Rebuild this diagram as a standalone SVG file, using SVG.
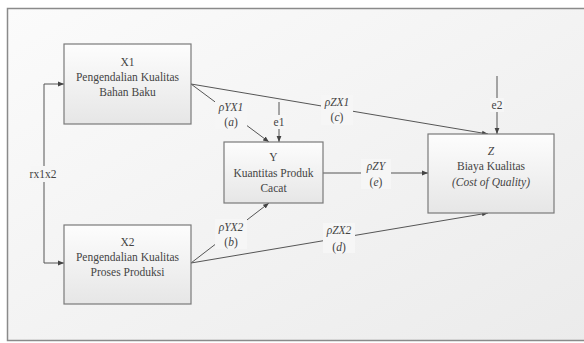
<svg xmlns="http://www.w3.org/2000/svg" width="584" height="343" viewBox="0 0 584 343">
<defs>
<linearGradient id="bg" x1="0" y1="0" x2="1" y2="1">
<stop offset="0" stop-color="#fbfbfb"/>
<stop offset="1" stop-color="#ebebeb"/>
</linearGradient>
<linearGradient id="box" x1="0" y1="0" x2="0" y2="1">
<stop offset="0" stop-color="#fdfdfd"/>
<stop offset="1" stop-color="#e6e6e6"/>
</linearGradient>
<marker id="arr" viewBox="0 0 10 10" refX="10" refY="5" markerWidth="6" markerHeight="6" orient="auto" markerUnits="userSpaceOnUse">
<path d="M0,1 L10,5 L0,9 z" fill="#444"/>
</marker>
<style>
.node rect{fill:url(#box);stroke:#7a7a7a;stroke-width:1.2}
text{font-size:11.5px;fill:#444;text-anchor:middle}
.it{font-style:italic}
.edge{stroke:#555;stroke-width:1;fill:none;marker-end:url(#arr)}
.lbg{fill:#f6f6f6}
</style>
</defs>
<rect x="0" y="0" width="584" height="343" fill="#ffffff"/>
<rect x="7.5" y="8.5" width="590" height="332" fill="url(#bg)" stroke="#8a8a8a" stroke-width="1.5"/>

<g id="connectors">
<path class="edge" d="M44,84 L44,263 M44,84 L64,84"/>
<path class="edge" d="M44,263 L64,263"/>
<path class="edge" d="M191,84 L269,142"/>
<path class="edge" d="M191,84 L488,134"/>
<path class="edge" d="M191,263 L269,203"/>
<path class="edge" d="M191,263 L488,213"/>
<path class="edge" d="M323,173 L428,173"/>
<path class="edge" d="M279,102 L279,142"/>
<path class="edge" d="M497,76 L497,134"/>
</g>

<g font-family="'Liberation Serif', 'Times New Roman', 'DejaVu Serif', serif">
<g id="labels">
<rect class="lbg" x="31" y="166" width="24" height="16"/>
<text x="43" y="178">rx1x2</text>
<rect class="lbg" x="215" y="99" width="32" height="30"/>
<text x="231" y="111" class="it">ρYX1</text>
<text x="231" y="126">(<tspan class="it">a</tspan>)</text>
<rect class="lbg" x="321" y="95" width="32" height="30"/>
<text x="337" y="106" class="it">ρZX1</text>
<text x="337" y="121">(<tspan class="it">c</tspan>)</text>
<rect class="lbg" x="215" y="219" width="32" height="30"/>
<text x="231" y="231" class="it">ρYX2</text>
<text x="231" y="246">(<tspan class="it">b</tspan>)</text>
<rect class="lbg" x="323" y="223" width="32" height="30"/>
<text x="339" y="234" class="it">ρZX2</text>
<text x="339" y="251">(<tspan class="it">d</tspan>)</text>
<rect class="lbg" x="361" y="159" width="30" height="30"/>
<text x="376" y="170" class="it">ρZY</text>
<text x="376" y="186">(<tspan class="it">e</tspan>)</text>
<rect class="lbg" x="272" y="115" width="14" height="14"/>
<text x="279" y="126">e1</text>
<rect class="lbg" x="490" y="98" width="14" height="14"/>
<text x="497" y="109">e2</text>
</g>

<g id="X1" class="node">
<rect x="64" y="44" width="127" height="80"/>
<text x="127.5" y="66">X1</text>
<text x="127.5" y="81">Pengendalian Kualitas</text>
<text x="127.5" y="96">Bahan Baku</text>
</g>
<g id="X2" class="node">
<rect x="64" y="225" width="127" height="79"/>
<text x="127.5" y="246">X2</text>
<text x="127.5" y="261">Pengendalian Kualitas</text>
<text x="127.5" y="276">Proses Produksi</text>
</g>
<g id="Y" class="node">
<rect x="224" y="142" width="99" height="61"/>
<text x="273.5" y="161">Y</text>
<text x="273.5" y="177">Kuantitas Produk</text>
<text x="273.5" y="192">Cacat</text>
</g>
<g id="Z" class="node">
<rect x="428" y="134" width="126" height="79"/>
<text x="491" y="155" class="it">Z</text>
<text x="491" y="170">Biaya Kualitas</text>
<text x="491" y="186" class="it">(Cost of Quality)</text>
</g>
</g>
</svg>
